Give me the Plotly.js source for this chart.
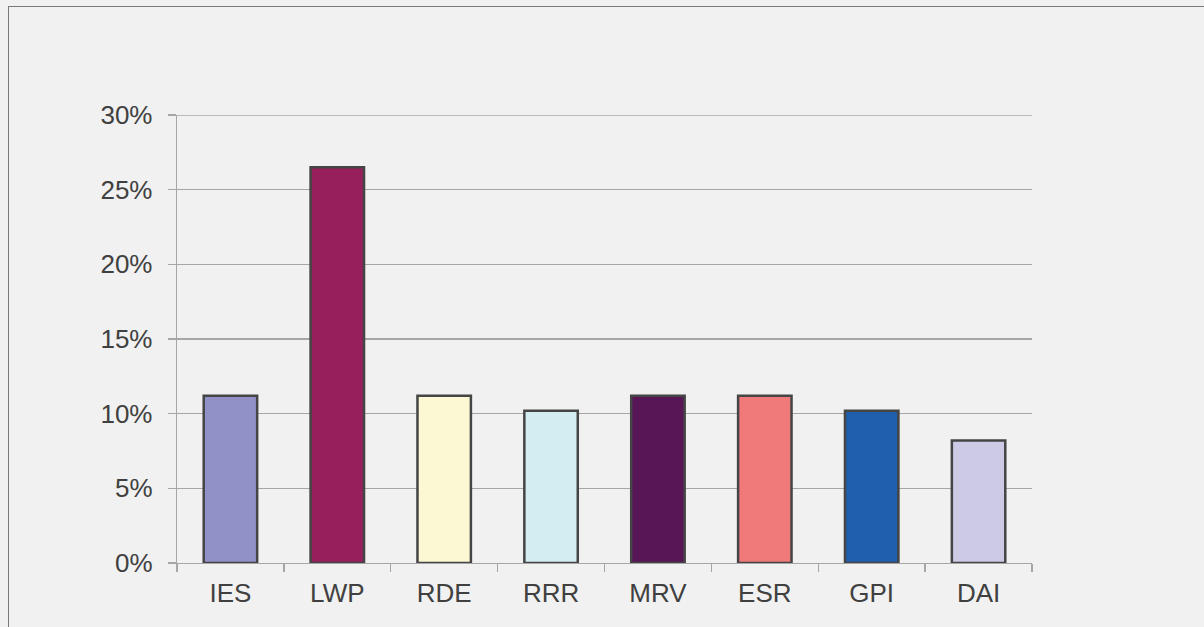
<!DOCTYPE html>
<html>
<head>
<meta charset="utf-8">
<script src="https://cdn.plot.ly/plotly-3.0.1.min.js"></script>
<style>
  html, body { margin: 0; padding: 0; background: #f1f1f1; }
  #wrap { position: relative; width: 1204px; height: 627px; overflow: hidden; }
  #chart { width: 1204px; height: 627px; }
  #frame { position: absolute; left: 8px; top: 6px; width: 1300px; height: 700px;
           border-left: 1.5px solid #7a7a7a; border-top: 1.5px solid #7a7a7a; pointer-events: none; }
</style>
</head>
<body>
<div id="wrap">
  <div id="chart"></div>
  <div id="frame"></div>
</div>
<script>
const categories = ["IES", "LWP", "RDE", "RRR", "MRV", "ESR", "GPI", "DAI"];
const values = [0.112, 0.265, 0.112, 0.102, 0.112, 0.112, 0.102, 0.082];
const barColors = ["#9191c8", "#971f5c", "#fcf8d3", "#d3edf2", "#581657", "#f07a7a", "#1f5fad", "#cdcae5"];
const yTickVals = [0, 0.05, 0.10, 0.15, 0.20, 0.25, 0.30];
const yTickText = ["0%", "5%", "10%", "15%", "20%", "25%", "30%"];
const yMax = 0.30;

const trace = {
  type: "bar",
  x: categories,
  y: values,
  marker: { color: barColors, line: { color: "#454545", width: 2.5 } },
  hoverinfo: "x+y"
};

const layout = {
  width: 1204,
  height: 627,
  paper_bgcolor: "#f1f1f1",
  plot_bgcolor: "#f1f1f1",
  margin: { l: 177, r: 172, t: 115, b: 64, pad: 0 },
  bargap: 0.5,
  showlegend: false,
  font: { family: "Liberation Sans, Arial, sans-serif", color: "#404040", size: 26 },
  shapes: [{
    type: "line", xref: "paper", yref: "y",
    x0: 0, x1: 1, y0: yMax, y1: yMax,
    line: { color: "#a6a6a6", width: 1.3 }, layer: "below"
  }],
  xaxis: {
    type: "category",
    showgrid: false,
    showline: true,
    linecolor: "#a6a6a6",
    linewidth: 1.3,
    ticks: "outside",
    tickson: "boundaries",
    ticklen: 8,
    tickcolor: "#a6a6a6",
    tickwidth: 1.3,
    ticklabelstandoff: 6,
    tickfont: { size: 26, color: "#404040" },
    zeroline: false
  },
  yaxis: {
    range: [0, yMax],
    tickvals: yTickVals,
    ticktext: yTickText,
    showgrid: true,
    gridcolor: "#a6a6a6",
    gridwidth: 1.3,
    showline: true,
    linecolor: "#a6a6a6",
    linewidth: 1.3,
    ticks: "outside",
    ticklen: 8,
    tickcolor: "#a6a6a6",
    tickwidth: 1.3,
    ticklabelstandoff: 10,
    tickfont: { size: 26, color: "#404040" },
    zeroline: false
  }
};

Plotly.newPlot("chart", [trace], layout, { displayModeBar: false, staticPlot: true });
</script>
</body>
</html>
